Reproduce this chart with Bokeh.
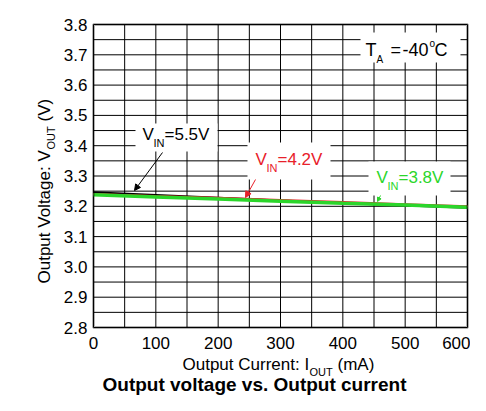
from math import pi
from bokeh.plotting import figure
from bokeh.models import (Range1d, FixedTicker, PrintfTickFormatter, Label, LinearAxis,
                          BoxAnnotation, Arrow, NormalHead)
from bokeh.embed import file_html
from bokeh.resources import INLINE

# data
i_out = [0, 100, 200, 300, 400, 500, 600]          # mA
v_55 = [3.246, 3.237, 3.228, 3.219, 3.211, 3.203, 3.195]
v_42 = [3.241, 3.234, 3.228, 3.221, 3.214, 3.207, 3.200]
v_38 = [3.238, 3.231, 3.224, 3.217, 3.210, 3.204, 3.197]
x_ticks = [0, 100, 200, 300, 400, 500, 600]
y_ticks = [2.8, 2.9, 3.0, 3.1, 3.2, 3.3, 3.4, 3.5, 3.6, 3.7, 3.8]
x_grid = list(range(0, 601, 50))
y_grid = [round(2.8 + 0.05 * k, 2) for k in range(21)]

FONT = "Liberation Sans"
GREEN = "#2bd62b"
RED = "#e8202a"
W, H = 470, 395


# reference pixel -> data position (plot box is 93..467 x 24..327)
def dx(px):
    return (px - 93) * 600 / 374


def dy(py):
    return 3.8 - (py - 24) / 303


# the frame fills the whole canvas so that labels around the plot box are not clipped
p = figure(width=W, height=H, output_backend="svg", toolbar_location=None,
           x_range=Range1d(dx(0), dx(W)), y_range=Range1d(dy(H), dy(0)),
           x_axis_location=None, y_axis_location=None)
p.min_border = 0
p.outline_line_color = None
p.background_fill_color = "white"
p.border_fill_color = "white"
p.grid.visible = False

# grid every 50 mA / 0.05 V, limited to the plot box
p.segment(x0=x_grid, y0=2.8, x1=x_grid, y1=3.8, line_color="black", line_width=1)
p.segment(x0=0, y0=y_grid, x1=600, y1=y_grid, line_color="black", line_width=1)

xax = LinearAxis(fixed_location=2.8, ticker=FixedTicker(ticks=x_ticks), bounds=(0, 600))
yax = LinearAxis(fixed_location=0, ticker=FixedTicker(ticks=y_ticks), bounds=(2.8, 3.8),
                 formatter=PrintfTickFormatter(format="%.1f"))
for ax in (xax, yax):
    ax.axis_line_color = None
    ax.major_tick_line_color = None
    ax.minor_tick_line_color = None
    ax.major_tick_out = 0
    ax.major_tick_in = 0
    ax.minor_tick_out = 0
    ax.major_label_text_font = FONT
    ax.major_label_text_font_size = "17px"
    ax.major_label_text_color = "black"
xax.major_label_standoff = 9
yax.major_label_standoff = 6
p.add_layout(xax, "below")
p.add_layout(yax, "left")

p.line(i_out, v_55, line_color="black", line_width=2)
p.line(i_out, v_42, line_color=RED, line_width=2)
p.line(i_out, v_38, line_color=GREEN, line_width=3.5)


def lab(text, px, py, size=17, color="black", bold=False, angle=0):
    # px, py is the wanted baseline start; the label anchor sits ~1/3 em above it
    if angle:
        px -= 0.33 * size
    else:
        py -= 0.33 * size
    p.add_layout(Label(x=dx(px), y=dy(py), text=text, text_font=FONT,
                       text_font_size=f"{size}px", text_color=color,
                       text_font_style="bold" if bold else "normal",
                       text_baseline="alphabetic", text_align="left",
                       angle=angle))


def box(x0, x1, y0, y1):
    p.add_layout(BoxAnnotation(left=dx(x0), right=dx(x1), top=dy(y0), bottom=dy(y1),
                               fill_color="white", fill_alpha=1, line_color=None))


def arrow(x0, y0, x1, y1, color, size=6):
    p.add_layout(Arrow(end=NormalHead(size=size, fill_color=color, line_color=color),
                       x_start=dx(x0), y_start=dy(y0), x_end=dx(x1), y_end=dy(y1),
                       line_color=color, line_width=1))


# white label boxes
box(360, 460, 32, 62)
box(135, 217, 123, 151)
box(247, 330, 142, 179)
box(368, 450, 161, 195)

# heavy border around the plot box
p.add_layout(BoxAnnotation(left=0, right=600, bottom=2.8, top=3.8, fill_alpha=0,
                           line_color="black", line_width=3))

# T_A = -40°C
lab("T", 365, 55, size=18)
lab("A", 376, 62, size=10)
lab("=", 390, 55, size=18)
lab("-40", 402, 55, size=18)
lab("o", 429, 46, size=10)
lab("C", 434, 55, size=18)

# V_IN labels
lab("V", 142, 140)
lab("IN", 153, 146, size=11)
lab("=5.5V", 164, 140)
arrow(162, 152, 134, 190, "black")

lab("V", 255, 165, color=RED)
lab("IN", 266, 171, size=11, color=RED)
lab("=4.2V", 277, 165, color=RED)
arrow(255, 179, 245, 197, RED)

lab("V", 376, 183, color=GREEN)
lab("IN", 387, 189, size=11, color=GREEN)
lab("=3.8V", 398, 183, color=GREEN)
arrow(380, 195, 377, 201, GREEN, size=4)

# axis labels with subscripts
lab("Output Current: I", 182, 370)
lab("OUT", 309, 375, size=11)
lab("(mA)", 337, 370)

lab("Output Voltage: V", 50, 283, angle=pi / 2)
lab("OUT", 54, 149, size=11, angle=pi / 2)
lab("(V)", 50, 121, angle=pi / 2)

lab("Output voltage vs. Output current", 102, 390, size=19, bold=True)

open("out.html", "w").write(file_html(p, INLINE))
